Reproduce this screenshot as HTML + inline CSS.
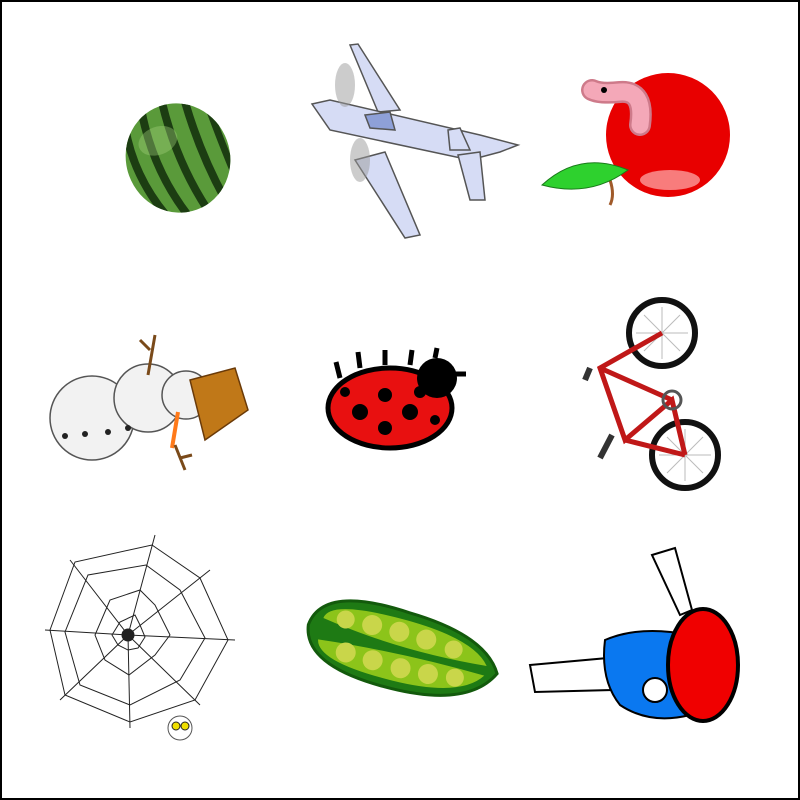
<!DOCTYPE html>
<html><head><meta charset="utf-8"><style>
html,body{margin:0;padding:0;background:#fff}
#frame{position:absolute;left:0;top:0;width:796px;height:796px;border:2px solid #000;background:#fff}
svg{position:absolute;left:0;top:0}
</style></head><body>
<div id="frame"></div>
<svg width="800" height="800" viewBox="0 0 800 800">
<defs><clipPath id="mc"><ellipse cx="178" cy="158" rx="52" ry="55"/></clipPath></defs>
<!-- watermelon -->
<g transform="rotate(-20 178 158)">
<ellipse cx="178" cy="158" rx="52" ry="55" fill="#5a9a3a"/>
<g clip-path="url(#mc)">
<path d="M140 105 Q128 160 150 215" stroke="#1c3d12" stroke-width="8" fill="none"/>
<path d="M160 100 Q150 160 168 216" stroke="#1c3d12" stroke-width="8" fill="none"/>
<path d="M182 100 Q175 160 188 216" stroke="#1c3d12" stroke-width="8" fill="none"/>
<path d="M204 104 Q200 160 208 212" stroke="#1c3d12" stroke-width="8" fill="none"/>
<path d="M224 115 Q224 160 226 200" stroke="#1c3d12" stroke-width="7" fill="none"/>
</g>
<ellipse cx="165" cy="135" rx="20" ry="14" fill="#a0d07a" opacity="0.4"/>
</g>
<!-- airplane -->
<g fill="#d6dcf5" stroke="#555" stroke-width="1.5">
<polygon points="350,45 358,44 400,110 378,112"/>
<polygon points="355,160 385,152 420,235 405,238"/>
<polygon points="312,104 330,100 480,135 518,145 500,152 470,160 330,130"/>
<polygon points="448,130 460,128 470,150 450,150"/>
<polygon points="458,155 480,152 485,200 470,200"/>
<ellipse cx="345" cy="85" rx="10" ry="22" fill="#999" opacity="0.5" stroke="none"/>
<ellipse cx="360" cy="160" rx="10" ry="22" fill="#999" opacity="0.5" stroke="none"/>
<polygon points="365,115 390,112 395,130 370,128" fill="#8ea0d8"/>
</g>
<!-- apple -->
<g>
<circle cx="668" cy="135" r="62" fill="#e80000"/>
<ellipse cx="670" cy="180" rx="30" ry="10" fill="#ffb0b0" opacity="0.7"/>
<path d="M610 180 Q615 195 610 205" stroke="#a05a2a" stroke-width="3" fill="none"/>
<path d="M542 185 Q580 150 628 170 Q590 198 542 185Z" fill="#2ed12e" stroke="#1a7a1a"/>
<path d="M640 125 Q645 90 620 92 Q600 94 592 90" stroke="#ce7a8a" stroke-width="22" fill="none" stroke-linecap="round"/>
<path d="M640 125 Q645 90 620 92 Q600 94 592 90" stroke="#f4a8b8" stroke-width="17" fill="none" stroke-linecap="round"/>
<circle cx="604" cy="90" r="3" fill="#000"/>
</g>
<!-- snowman -->
<g stroke="#555" stroke-width="1.5">
<circle cx="92" cy="418" r="42" fill="#f2f2f2"/>
<circle cx="148" cy="398" r="34" fill="#f2f2f2"/>
<circle cx="186" cy="395" r="24" fill="#f2f2f2"/>
<polygon points="190,380 235,368 248,410 205,440" fill="#c07818" stroke="#6a3a08"/>
<path d="M178 412 L172 448" stroke="#ff7a1a" stroke-width="4"/>
<path d="M148 375 L155 335 M150 350 L140 340 M175 445 L185 470 M180 458 L192 455" stroke="#7a4a1a" stroke-width="3" fill="none"/>
<g fill="#222" stroke="none"><circle cx="65" cy="436" r="3"/><circle cx="85" cy="434" r="3"/><circle cx="108" cy="432" r="3"/><circle cx="128" cy="428" r="3"/></g>
</g>
<!-- ladybug -->
<g>
<ellipse cx="390" cy="408" rx="62" ry="40" fill="#e81010" stroke="#000" stroke-width="5"/>
<circle cx="437" cy="378" r="20" fill="#000"/>
<g fill="#000"><circle cx="360" cy="412" r="8"/><circle cx="385" cy="395" r="7"/><circle cx="410" cy="412" r="8"/><circle cx="385" cy="428" r="7"/><circle cx="345" cy="392" r="5"/><circle cx="420" cy="392" r="6"/><circle cx="435" cy="420" r="5"/></g>
<path d="M340 378 L336 362 M360 368 L358 352 M385 365 L385 350 M410 365 L412 350 M435 358 L437 348 M455 374 L466 374" stroke="#000" stroke-width="5"/>
</g>
<!-- bicycle -->
<g fill="none">
<circle cx="662" cy="333" r="33" stroke="#111" stroke-width="6"/>
<path d="M636 333 H688 M662 307 V359 M644 315 L680 351 M680 315 L644 351" stroke="#bbb"/>
<circle cx="685" cy="455" r="33" stroke="#111" stroke-width="6"/>
<path d="M659 455 H711 M685 429 V481 M667 437 L703 473 M703 437 L667 473" stroke="#bbb"/>
<path d="M662 333 L600 368 L625 440 L672 400 L685 455 M625 440 L685 455 M600 368 L672 400" stroke="#c01818" stroke-width="5"/>
<path d="M590 368 L585 380 M612 435 L600 458" stroke="#333" stroke-width="6"/>
<circle cx="672" cy="400" r="9" stroke="#555" stroke-width="3"/>
</g>
<!-- spider web -->
<g stroke="#222" stroke-width="1" fill="none">
<path d="M128 635 L155 535 M128 635 L210 570 M128 635 L235 640 M128 635 L200 705 M128 635 L130 728 M128 635 L60 700 M128 635 L45 630 M128 635 L70 560"/>
<polygon points="140,590 155,605 170,635 155,655 129,675 105,660 95,635 110,600"/>
<polygon points="146,565 180,590 205,638 180,680 130,705 80,685 65,632 88,575"/>
<polygon points="152,545 200,578 228,640 195,700 130,722 65,695 50,630 75,562"/>
<polygon points="135,615 140,625 145,637 138,648 128,650 118,645 112,635 120,622"/>
<circle cx="128" cy="635" r="6" fill="#222"/>
<circle cx="180" cy="728" r="12" fill="#fff" stroke="#555"/>
<circle cx="176" cy="726" r="4" fill="#f0e000"/><circle cx="185" cy="726" r="4" fill="#f0e000"/>
</g>
<!-- pea pod -->
<g transform="rotate(14 402 650)">
<path d="M305 648 Q310 605 400 612 Q480 615 500 650 Q480 690 400 690 Q310 690 305 648Z" fill="#1e7a14" stroke="#135a0c" stroke-width="3"/>
<path d="M318 638 Q320 618 400 620 Q470 622 488 645 Q400 652 318 638Z" fill="#8cc41a"/>
<path d="M318 660 Q400 652 488 655 Q470 682 400 682 Q322 682 318 660Z" fill="#8cc41a"/>
<g fill="#c9d64a"><circle cx="340" cy="634" r="9"/><circle cx="367" cy="633" r="10"/><circle cx="395" cy="633" r="10"/><circle cx="423" cy="634" r="10"/><circle cx="452" cy="637" r="9"/>
<circle cx="348" cy="666" r="10"/><circle cx="376" cy="667" r="10"/><circle cx="405" cy="668" r="10"/><circle cx="433" cy="667" r="10"/><circle cx="460" cy="664" r="9"/></g>
</g>
<!-- ping pong -->
<g stroke="#000" stroke-width="2">
<polygon points="530,665 608,658 612,690 535,692" fill="#fff"/>
<path d="M605 640 Q640 625 690 635 L690 715 Q650 725 620 705 Q600 680 605 640Z" fill="#0a78f0"/>
<circle cx="655" cy="690" r="12" fill="#fff"/>
<polygon points="652,555 675,548 692,610 680,615" fill="#fff"/>
<ellipse cx="703" cy="665" rx="35" ry="56" fill="#f00000" stroke-width="4"/>
</g>
</svg>
</body></html>
